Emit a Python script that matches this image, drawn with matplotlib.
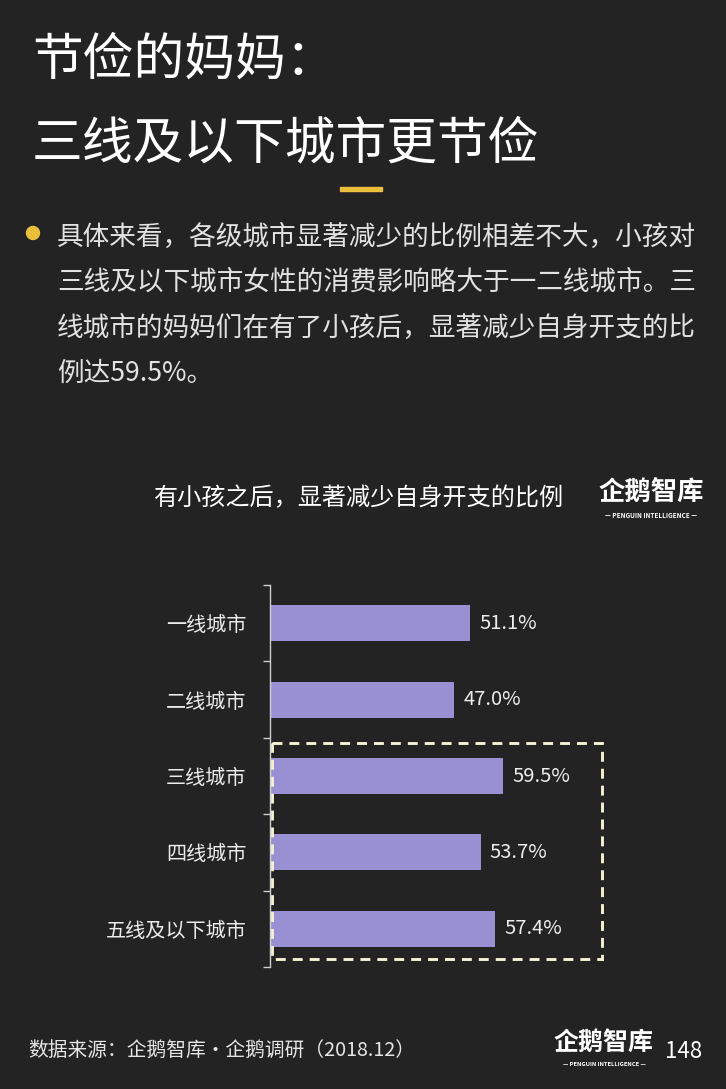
import matplotlib
matplotlib.use("Agg")
import matplotlib.pyplot as plt
from matplotlib.patches import Rectangle, Ellipse

plt.rcParams['font.family'] = ['Noto Sans CJK SC', 'DejaVu Sans']

# data
cities = ['一线城市', '二线城市', '三线城市', '四线城市', '五线及以下城市']
values = [51.1, 47.0, 59.5, 53.7, 57.4]
highlight = ['三线城市', '四线城市', '五线及以下城市']

title_lines = ['节俭的妈妈：', '三线及以下城市更节俭']
body_lines = ['具体来看，各级城市显著减少的比例相差不大，小孩对',
              '三线及以下城市女性的消费影响略大于一二线城市。三',
              '线城市的妈妈们在有了小孩后，显著减少自身开支的比',
              '例达59.5%。']
chart_title = '有小孩之后，显著减少自身开支的比例'
source = '数据来源：企鹅智库·企鹅调研（2018.12）'
page_no = '148'

BG = '#232323'
BAR = '#9890d2'
TXT = '#ececec'
GOLD = '#e9bf3c'
DASH = '#f4f0d2'

W, H = 726, 1089
fig = plt.figure(figsize=(W / 100, H / 100), dpi=100, facecolor=BG)


def fx(px):
    return px / W


def fy(py):
    return 1 - py / H


# header
fig.text(fx(32), fy(61), title_lines[0], fontsize=36.5, color='white',
         fontweight='light', va='center', ha='left')
fig.text(fx(32), fy(144), title_lines[1], fontsize=36.5, color='white',
         fontweight='light', va='center', ha='left')
fig.patches.append(Rectangle((fx(340), fy(191)), fx(42), 4 / H,
                             transform=fig.transFigure, color=GOLD))

# bullet paragraph
fig.patches.append(Ellipse((fx(33), fy(233)), 13 / W, 13 / H,
                           transform=fig.transFigure, color=GOLD))
for i, line in enumerate(body_lines):
    fig.text(fx(57), fy(237 + i * 45.5), line, fontsize=19.2, color='#e2e2e2',
             fontweight='light', va='center', ha='left')

# chart title + logo
fig.text(fx(358), fy(498), chart_title, fontsize=17.4, color='white',
         va='center', ha='center')
fig.text(fx(651), fy(493), '企鹅智库', fontsize=19, color='white',
         fontweight='bold', va='center', ha='center')
fig.text(fx(651), fy(515), '— PENGUIN INTELLIGENCE —', fontsize=4.6,
         color='white', fontweight='bold', va='center', ha='center')

# bar chart
ax = fig.add_axes([fx(270), fy(967), fx(350), (967 - 585) / H])
ax.set_facecolor('none')
pos = list(range(len(cities)))
ax.barh(pos, values, height=0.47, color=BAR)
for p, v in zip(pos, values):
    ax.text(v + 2.3, p, f'{v:.1f}%', color=TXT, fontsize=14.5,
            fontweight='light', va='center', ha='left')

ax.set_xlim(0, 350 / 3.92)
ax.set_ylim(len(cities) - 0.5, -0.5)
ax.set_yticks(pos)
ax.set_yticklabels(cities, fontsize=14.5, color=TXT, fontweight='light')
ax.tick_params(axis='y', which='major', length=0, pad=17)
ax.set_yticks([p - 0.5 for p in pos] + [len(cities) - 0.5], minor=True)
ax.tick_params(axis='y', which='minor', length=5, width=1, color='#d0d0d0',
               direction='out')
ax.set_xticks([])
for s in ['top', 'right', 'bottom']:
    ax.spines[s].set_visible(False)
ax.spines['left'].set_color('#d0d0d0')
ax.spines['left'].set_linewidth(1)

# dashed highlight box around the lower-tier cities
i0 = cities.index(highlight[0])
i1 = cities.index(highlight[-1])
box = Rectangle((0.45, i0 - 0.43), 84.2, (i1 - i0) + 0.83, fill=False,
                edgecolor=DASH, linewidth=2.1, linestyle=(0, (3.4, 2.4)),
                clip_on=False)
ax.add_patch(box)

# footer
fig.text(fx(28), fy(1050), source, fontsize=14.2, color='#e6e6e6',
         fontweight='light', va='center', ha='left')
fig.text(fx(604), fy(1043), '企鹅智库', fontsize=18, color='white',
         fontweight='bold', va='center', ha='center')
fig.text(fx(604), fy(1065), '— PENGUIN INTELLIGENCE —', fontsize=4.2,
         color='white', fontweight='bold', va='center', ha='center')
fig.text(fx(684), fy(1052), page_no, fontsize=16, color='white',
         va='center', ha='center')

fig.savefig('out.png', dpi=100, facecolor=BG)
